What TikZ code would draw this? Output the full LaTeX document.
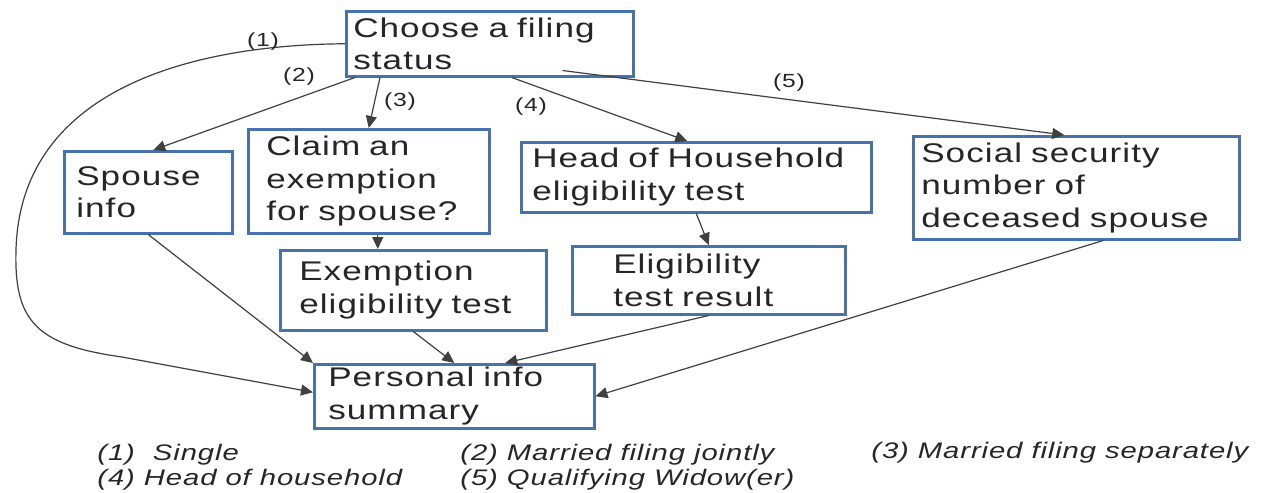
\documentclass[tikz,border=0pt]{standalone}
\usepackage{fontspec}
\setmainfont{Liberation Sans}[FakeStretch=1.3,LetterSpace=4]
\usetikzlibrary{arrows.meta,calc}
\definecolor{boxblue}{RGB}{70,115,175}
\begin{document}
\begin{tikzpicture}[x=0.5pt,y=-0.5pt,
  box/.style={draw=boxblue,line width=1.25pt,anchor=north west,align=left,
    inner ysep=0pt,font=\fontsize{13.5}{16.25}\selectfont,text=black!85},
  conn/.style={draw=black!75,line width=0.6pt,-{Triangle[length=6pt,width=5.5pt]}},
  lbl/.style={font=\fontsize{9.5}{11}\selectfont,inner sep=0pt,text=black!85},
  leg/.style={font=\fontsize{11.25}{12.5}\selectfont\itshape,inner sep=0pt,anchor=base west,text=black!85}]
\fill[white] (0,0) rectangle (1266,493);
\useasboundingbox (0,0) rectangle (1266,493);

\node[box,minimum width=143.5pt,minimum height=32.5pt,inner xsep=3.5pt,text width=136.5pt] (choose) at (345,10) {Choose a filing\\status};
\node[box,minimum width=84pt,minimum height=41pt,inner xsep=6pt,text width=72pt] (spouse) at (63,150) {Spouse\\info};
\node[box,minimum width=120.5pt,minimum height=52pt,inner xsep=9pt,text width=102.5pt] (claim) at (247,128) {Claim an\\exemption\\for spouse?};
\node[box,minimum width=175pt,minimum height=35pt,inner xsep=5.5pt,text width=164pt] (head) at (520,141) {Head of Household\\eligibility test};
\node[box,minimum width=163pt,minimum height=51.5pt,inner xsep=4pt,text width=155pt] (social) at (912,135) {Social security\\number of\\deceased spouse};
\node[box,minimum width=133pt,minimum height=40pt,inner xsep=9.5pt,text width=114pt] (exempt) at (279,249) {Exemption\\eligibility test};
\node[box,minimum width=136.5pt,minimum height=34pt,inner xsep=20.5pt,text width=95.5pt] (elig) at (571,245) {Eligibility\\test result};
\node[box,minimum width=140pt,minimum height=32pt,inner xsep=7pt,text width=126pt] (personal) at (313,363) {Personal info\\summary};

% (1) single
\draw[conn] (choose.west) .. controls (180,45) and (20,95) .. (16,250)
  .. controls (14,320) and (35,345) .. (122,357) -- ($(personal.west)+(0,-4)$);
% (2)
\draw[conn] ($(choose.south west)+(10,0)$) -- ($(spouse.north)+(5,0)$);
% (3)
\draw[conn] ($(choose.south west)+(35,0)$) -- (claim.north);
% (4)
\draw[conn] ($(choose.south)+(22,0)$) -- ($(head.north)+(-9,0)$);
% (5)
\draw[conn] ($(choose.south east)+(-72,-7)$) -- ($(social.north)+(-12,0)$);

\draw[conn] ($(claim.south)+(9,0)$) coordinate (c1) -- (c1 |- exempt.north);
\draw[conn] (head.south) -- (elig.north);
\draw[conn] (spouse.south) -- (personal.north west);
\draw[conn] (exempt.south) -- (personal.north);
\draw[conn] (elig.south) -- ($(personal.north)+(51,0)$);
\draw[conn] ($(social.south)+(27,0)$) -- (personal.east);

\node[lbl] (l1) at (263,42) {(1)};
\node[lbl] (l2) at (299,77) {(2)};
\node[lbl] (l3) at (400,102) {(3)};
\node[lbl] (l4) at (531,107) {(4)};
\node[lbl] (l5) at (789,83) {(5)};

\node[leg] (g1) at (97,460) {(1)\ \ Single};
\node[leg] (g4) at (97,485) {(4) Head of household};
\node[leg] (g2) at (460,460) {(2) Married filing jointly};
\node[leg] (g5) at (460,485) {(5) Qualifying Widow(er)};
\node[leg] (g3) at (871,458) {(3) Married filing separately};
\end{tikzpicture}
\end{document}
